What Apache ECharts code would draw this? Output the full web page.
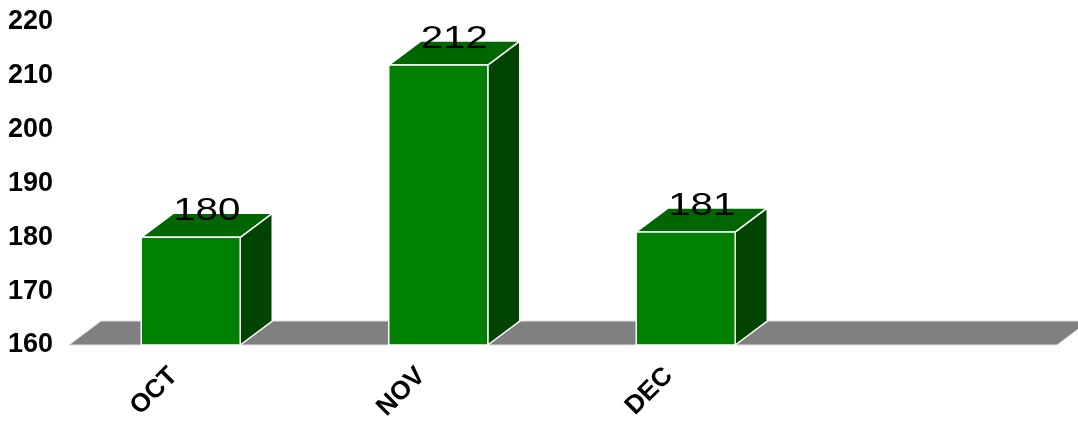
<!DOCTYPE html>
<html>
<head>
<meta charset="utf-8">
<script src="https://cdn.jsdelivr.net/npm/echarts@6/dist/echarts.min.js"></script>
<style>
html,body{margin:0;padding:0;background:#fff;}
#chart{width:1078px;height:421px;}
</style>
</head>
<body>
<div id="chart"></div>
<script>
const categories = ['OCT', 'NOV', 'DEC', ''];
const values = [180, 212, 181, null];
const yMin = 160;
const yMax = 220;
const yInterval = 10;

const DX = 32, DY = -24;
const chart = echarts.init(document.getElementById('chart'), null, {renderer: 'canvas'});

const option = {
  animation: false,
  backgroundColor: '#ffffff',
  grid: {left: 67, right: 21, top: 22, bottom: 76, containLabel: false, outerBoundsMode: 'none'},
  xAxis: {
    type: 'category',
    data: categories,
    axisLine: {show: false},
    axisTick: {show: false},
    splitLine: {show: false},
    axisLabel: {
      rotate: 45,
      interval: 0,
      margin: 10,
      padding: [0, 24, 0, 0],
      color: '#000',
      fontWeight: 'bold',
      fontSize: 26,
      fontFamily: 'Liberation Sans, Arial, sans-serif'
    }
  },
  yAxis: {
    type: 'value',
    min: yMin,
    max: yMax,
    interval: yInterval,
    axisLine: {show: false},
    axisTick: {show: false},
    splitLine: {show: false},
    axisLabel: {
      margin: 14,
      color: '#000',
      fontWeight: 'bold',
      fontSize: 27,
      fontFamily: 'Liberation Sans, Arial, sans-serif'
    }
  },
  series: [
    {
      type: 'custom',
      name: 'floor',
      z: 1,
      data: [[0]],
      renderItem: function (params, api) {
        const cs = params.coordSys;
        const yb = cs.y + cs.height;
        return {
          type: 'polygon',
          shape: {points: [[cs.x + 2, yb], [cs.x + cs.width, yb], [cs.x + cs.width + DX, yb + DY], [cs.x + 2 + DX, yb + DY]]},
          style: {fill: '#808080', stroke: '#e0e0e0', lineWidth: 1}
        };
      }
    },
    {
      type: 'custom',
      name: 'bars',
      z: 2,
      data: categories.map((c, i) => [i, values[i]]).filter(d => d[1] != null),
      renderItem: function (params, api) {
        const xi = api.value(0);
        const v = api.value(1);
        const top = api.coord([xi, v]);
        const base = api.coord([xi, yMin]);
        const w = api.size([1, 0])[0] * 0.4;
        const l = top[0] - w / 2, r = top[0] + w / 2;
        const yt = top[1], yb = base[1];
        const stroke = {stroke: '#ffffff', lineWidth: 1.5};
        return {
          type: 'group',
          children: [
            {type: 'polygon', shape: {points: [[r, yb], [r + DX, yb + DY], [r + DX, yt + DY], [r, yt]]},
             style: Object.assign({fill: '#004400'}, stroke)},
            {type: 'polygon', shape: {points: [[l, yt], [r, yt], [r + DX, yt + DY], [l + DX, yt + DY]]},
             style: Object.assign({fill: '#006600'}, stroke)},
            {type: 'polygon', shape: {points: [[l, yb], [r, yb], [r, yt], [l, yt]]},
             style: Object.assign({fill: '#008000'}, stroke)},
            {type: 'text', x: top[0] + DX / 2, y: yt - 10, scaleX: 1.3, scaleY: 1,
             style: {
               text: String(v),
               align: 'center',
               verticalAlign: 'bottom',
               fill: '#000',
               fontSize: 31,
               fontFamily: '"Liberation Sans", Arial, sans-serif'
             }}
          ]
        };
      }
    }
  ]
};
chart.setOption(option);
</script>
</body>
</html>
